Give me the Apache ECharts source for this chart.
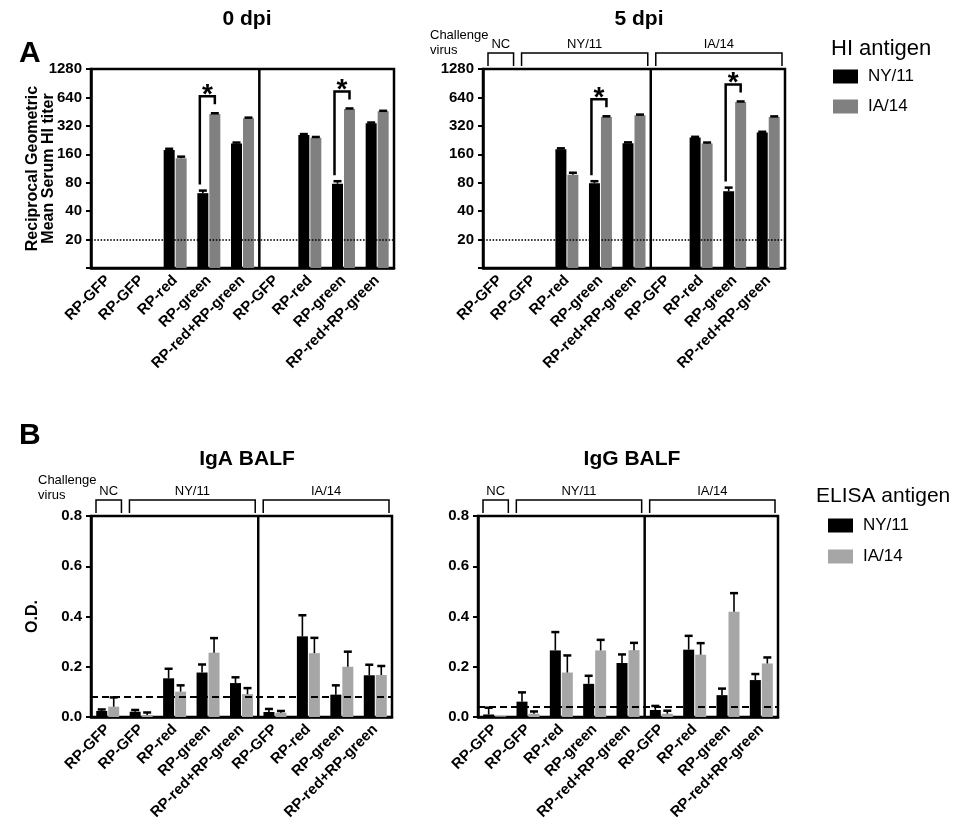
<!DOCTYPE html>
<html><head><meta charset="utf-8">
<script src="https://cdn.jsdelivr.net/npm/echarts@6/dist/echarts.min.js"></script>
<style>html,body{margin:0;padding:0;background:#fff}#c{width:954px;height:830px}</style>
</head><body><div id="c"></div>
<script>
// ---------- data ----------
const categories = ['RP-GFP','RP-GFP','RP-red','RP-green','RP-red+RP-green','RP-GFP','RP-red','RP-green','RP-red+RP-green'];
const groups = [['NC',0,0],['NY/11',1,4],['IA/14',5,8]];
const sigCats = [3,7];

// HI titers (reciprocal geometric mean)
const dpi0_NY = [null,null,178,62,208,null,256,78,341];
const dpi0_NY_err = [null,null,5,4,5,null,6,5,6];
const dpi0_IA = [null,null,145,427,385,null,239,482,456];
const dpi0_IA_err = [null,null,6,8,6,null,5,7,6];
const dpi5_NY = [null,null,181,79,210,null,241,65,272];
const dpi5_NY_err = [null,null,4,4,4,null,4,6,5];
const dpi5_IA = [null,null,97,397,414,null,208,572,397];
const dpi5_IA_err = [null,null,5,7,7,null,5,8,6];
const hiLimit = 20;
const hiMin = 10, hiMax = 1280;

// ELISA O.D.
const IgA_NY = [0.024,0.021,0.154,0.177,0.135,0.020,0.321,0.089,0.166];
const IgA_NY_err = [0.006,0.007,0.038,0.032,0.023,0.012,0.084,0.037,0.042];
const IgA_IA = [0.041,0.008,0.101,0.256,0.091,0.017,0.254,0.200,0.167];
const IgA_IA_err = [0.037,0.010,0.025,0.058,0.024,0.007,0.061,0.060,0.036];
const IgG_NY = [0.010,0.061,0.265,0.132,0.215,0.028,0.268,0.087,0.147];
const IgG_NY_err = [0.027,0.037,0.073,0.032,0.034,0.016,0.055,0.026,0.024];
const IgG_IA = [0.003,0.013,0.177,0.265,0.266,0.013,0.248,0.419,0.213];
const IgG_IA_err = [0,0.009,0.068,0.042,0.029,0.012,0.046,0.074,0.024];
const IgA_cut = 0.078, IgG_cut = 0.038;

// ---------- build ----------
const FONT = "'Liberation Sans', Arial, Helvetica, sans-serif";
const BLACK = '#000', GRAY_HI = '#808080', GRAY_EL = '#a6a6a6';
const lg = v => Math.log2(v / hiMin);
const logTop = lg(hiMax);

const grids = [
  {left:91, top:69, width:303, height:199},
  {left:483, top:69, width:302, height:199},
  {left:91, top:516, width:301, height:201},
  {left:478, top:516, width:300, height:201}
].map(g => Object.assign(g, {show:true, borderColor:'#000', borderWidth:2.5, backgroundColor:'transparent'}));

const xAxes = grids.map((g,i) => ({
  type:'category', gridIndex:i, data:categories, boundaryGap:true,
  axisLine:{lineStyle:{color:'#000', width:2.5}},
  axisTick:{alignWithLabel:true, length:6, lineStyle:{color:'#000', width:2}},
  axisLabel:{rotate:45, interval:0, fontFamily:FONT, fontWeight:'bold', fontSize:15, color:'#000', margin:10}
}));

const yBase = {
  type:'value', splitLine:{show:false},
  axisLine:{show:true, lineStyle:{color:'#000', width:2.5}},
  axisTick:{show:true, length:5, lineStyle:{color:'#000', width:2}},
  axisLabel:{fontFamily:FONT, fontWeight:'bold', fontSize:15, color:'#000', margin:9},
  nameLocation:'middle', nameMoveOverlap:false,
  nameTextStyle:{fontFamily:FONT, fontWeight:'bold', fontSize:16, color:'#000', lineHeight:16}
};
const hiLabel = v => v === 0 ? '' : String(Math.round(hiMin * Math.pow(2, v)));
const yAxes = [
  Object.assign({}, yBase, {gridIndex:0, min:0, max:logTop, interval:1, axisLabel:Object.assign({}, yBase.axisLabel, {formatter:hiLabel}),
     name:'Reciprocal Geometric\nMean Serum HI titer', nameGap:34}),
  Object.assign({}, yBase, {gridIndex:1, min:0, max:logTop, interval:1, axisLabel:Object.assign({}, yBase.axisLabel, {formatter:hiLabel})}),
  Object.assign({}, yBase, {gridIndex:2, min:0, max:0.8, interval:0.2, axisLabel:Object.assign({}, yBase.axisLabel, {formatter:v => v.toFixed(1)}),
     name:'O.D.', nameGap:50}),
  Object.assign({}, yBase, {gridIndex:3, min:0, max:0.8, interval:0.2, axisLabel:Object.assign({}, yBase.axisLabel, {formatter:v => v.toFixed(1)})})
];

const series = [];
const OFF = 6;

function errSeries(idx, vals, errs, off, tf) {
  const data = [];
  vals.forEach((v,i) => { if (v != null) data.push([i, tf(v), tf(v + (errs[i] || 0))]); });
  series.push({
    type:'custom', xAxisIndex:idx, yAxisIndex:idx, z:4, silent:true, data,
    encode:{x:0, y:[1,2]},
    renderItem:(params, api) => {
      const c = api.value(0);
      const p0 = api.coord([c, api.value(1)]), p1 = api.coord([c, api.value(2)]);
      const x = p0[0] + off;
      if (p0[1] - p1[1] < 0.5) return null;
      return {type:'group', children:[
        {type:'line', shape:{x1:x, y1:p0[1], x2:x, y2:p1[1]}, style:{stroke:'#000', lineWidth:1.6}},
        {type:'line', shape:{x1:x-4, y1:p1[1], x2:x+4, y2:p1[1]}, style:{stroke:'#000', lineWidth:2.5}}
      ]};
    }
  });
}

function panel(idx, nyVals, nyErr, iaVals, iaErr, gray, tf, cutoff, dashType, yMin, yMax, opts) {
  series.push({
    name:'NY/11', type:'bar', xAxisIndex:idx, yAxisIndex:idx, barWidth:11, barGap:'9%',
    itemStyle:{color:BLACK}, data:nyVals.map(v => v == null ? null : tf(v)),
    markLine:{silent:true, symbol:'none', label:{show:false},
      lineStyle:{color:'#000', type:dashType, width:dashType === 'dotted' ? 1.6 : 2},
      data:[{yAxis: tf(cutoff)}]}
  });
  series.push({
    name:'IA/14', type:'bar', xAxisIndex:idx, yAxisIndex:idx, barWidth:11, barGap:'9%',
    itemStyle:{color:gray}, data:iaVals.map(v => v == null ? null : tf(v))
  });
  errSeries(idx, nyVals, nyErr, -OFF, tf);
  errSeries(idx, iaVals, iaErr, OFF, tf);
  // divider between NY/11 and IA/14 challenge groups
  series.push({
    type:'custom', xAxisIndex:idx, yAxisIndex:idx, z:5, silent:true, data:[[groups[1][2], yMin, yMax]],
    renderItem:(params, api) => {
      const p0 = api.coord([api.value(0), api.value(1)]), p1 = api.coord([api.value(0), api.value(2)]);
      const bw = api.size([1,0])[0];
      const x = p0[0] + bw/2;
      return {type:'line', shape:{x1:x, y1:p0[1], x2:x, y2:p1[1]}, style:{stroke:'#000', lineWidth:2.5}};
    }
  });
  if (opts.brackets) {
    series.push({
      type:'custom', xAxisIndex:idx, yAxisIndex:idx, z:5, silent:true,
      data:groups.map(g => [g[1], g[2], yMax]),
      renderItem:(params, api) => {
        const a = api.coord([api.value(0), api.value(2)]), b = api.coord([api.value(1), api.value(2)]);
        const bw = api.size([1,0])[0];
        const x1 = a[0] - bw/2 + 5, x2 = b[0] + bw/2 - 3;
        const yTop = a[1] - 16, yLeg = a[1] - 3;
        return {type:'group', children:[
          {type:'polyline', shape:{points:[[x1,yLeg],[x1,yTop],[x2,yTop],[x2,yLeg]]}, style:{stroke:'#000', lineWidth:1.5, fill:null}},
          {type:'text', style:{text:groups[params.dataIndex][0], x:(x1+x2)/2, y:yTop-9, textAlign:'center', textVerticalAlign:'middle',
             font:'13px ' + FONT, fill:'#000'}}
        ]};
      }
    });
  }
  if (opts.sig) {
    series.push({
      type:'custom', xAxisIndex:idx, yAxisIndex:idx, z:5, silent:true,
      data:sigCats.map(c => [c, tf(nyVals[c] + nyErr[c]), tf(iaVals[c] + iaErr[c])]),
      renderItem:(params, api) => {
        const c = api.value(0);
        const pb = api.coord([c, api.value(1)]), pg = api.coord([c, api.value(2)]);
        const xl = pb[0] - OFF - 3, xr = pg[0] + OFF;
        const yTop = pg[1] - 17;
        return {type:'group', children:[
          {type:'polyline', shape:{points:[[xl,pb[1]-6],[xl,yTop],[xr,yTop],[xr,yTop+8]]}, style:{stroke:'#000', lineWidth:2.5, fill:null}},
          {type:'text', style:{text:'*', x:(xl+xr)/2, y:yTop-1, textAlign:'center', textVerticalAlign:'middle',
             font:'bold 28px ' + FONT, fill:'#000'}}
        ]};
      }
    });
  }
}

panel(0, dpi0_NY, dpi0_NY_err, dpi0_IA, dpi0_IA_err, GRAY_HI, lg, hiLimit, 'dotted', 0, logTop, {sig:true});
panel(1, dpi5_NY, dpi5_NY_err, dpi5_IA, dpi5_IA_err, GRAY_HI, lg, hiLimit, 'dotted', 0, logTop, {sig:true, brackets:true});
panel(2, IgA_NY, IgA_NY_err, IgA_IA, IgA_IA_err, GRAY_EL, v => v, IgA_cut, [7,4], 0, 0.8, {brackets:true});
panel(3, IgG_NY, IgG_NY_err, IgG_IA, IgG_IA_err, GRAY_EL, v => v, IgG_cut, [7,4], 0, 0.8, {brackets:true});

const titleStyle = {fontFamily:FONT, fontWeight:'bold', fontSize:21, color:'#000'};
const smallStyle = {fontFamily:FONT, fontWeight:'normal', fontSize:13, color:'#000', lineHeight:15};
const option = {
  animation:false,
  backgroundColor:'#fff',
  title:[
    {text:'0 dpi', left:242, top:4, textAlign:'center', textStyle:titleStyle},
    {text:'5 dpi', left:634, top:4, textAlign:'center', textStyle:titleStyle},
    {text:'IgA BALF', left:242, top:444, textAlign:'center', textStyle:titleStyle},
    {text:'IgG BALF', left:627, top:444, textAlign:'center', textStyle:titleStyle},
    {text:'A', left:14, top:34, textStyle:{fontFamily:FONT, fontWeight:'bold', fontSize:30, color:'#000'}},
    {text:'B', left:14, top:416, textStyle:{fontFamily:FONT, fontWeight:'bold', fontSize:30, color:'#000'}},
    {text:'Challenge\nvirus', left:425, top:23, textStyle:smallStyle},
    {text:'Challenge\nvirus', left:33, top:468, textStyle:smallStyle},
    {text:'HI antigen', left:826, top:33, textStyle:{fontFamily:FONT, fontWeight:'normal', fontSize:22, color:'#000'}},
    {text:'ELISA antigen', left:811, top:481, textStyle:{fontFamily:FONT, fontWeight:'normal', fontSize:21, color:'#000'}}
  ],
  legend:[
    {orient:'vertical', left:828, top:63, itemWidth:25, itemHeight:14, itemGap:13, icon:'rect', selectedMode:false,
     textStyle:{fontFamily:FONT, fontSize:17, color:'#000', padding:[0,0,0,5]},
     data:[{name:'NY/11', itemStyle:{color:BLACK}}, {name:'IA/14', itemStyle:{color:GRAY_HI}}]},
    {orient:'vertical', left:823, top:512, itemWidth:25, itemHeight:14, itemGap:14, icon:'rect', selectedMode:false,
     textStyle:{fontFamily:FONT, fontSize:17, color:'#000', padding:[0,0,0,5]},
     data:[{name:'NY/11', itemStyle:{color:BLACK}}, {name:'IA/14', itemStyle:{color:GRAY_EL}}]}
  ],
  grid:grids, xAxis:xAxes, yAxis:yAxes, series
};
const chart = echarts.init(document.getElementById('c'), null, {renderer:'canvas'});
chart.setOption(option);
</script></body></html>
